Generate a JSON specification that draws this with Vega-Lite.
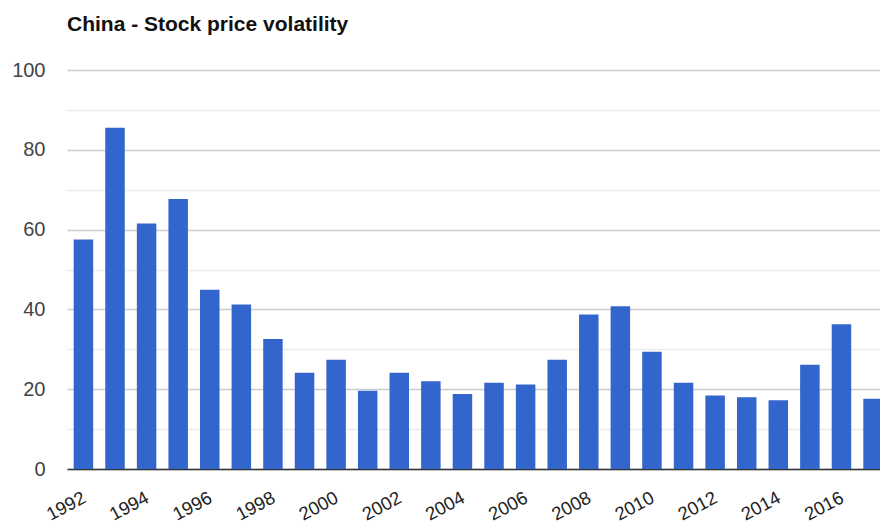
{
  "$schema": "https://vega.github.io/schema/vega-lite/v6.json",
  "autosize": {"type": "none"},
  "width": 813,
  "height": 399,
  "padding": {"left": 67, "right": 0, "top": 70, "bottom": 55},
  "background": "#ffffff",
  "title": {
    "text": "China - Stock price volatility",
    "anchor": "start",
    "frame": "group",
    "font": "Liberation Sans",
    "fontSize": 21,
    "fontWeight": "bold",
    "color": "#111111",
    "offset": 25
  },
  "data": {
    "values": [
      {"year": 1992, "volatility": 57.5},
      {"year": 1993, "volatility": 85.5},
      {"year": 1994, "volatility": 61.5},
      {"year": 1995, "volatility": 67.7},
      {"year": 1996, "volatility": 44.9},
      {"year": 1997, "volatility": 41.2},
      {"year": 1998, "volatility": 32.6},
      {"year": 1999, "volatility": 24.1},
      {"year": 2000, "volatility": 27.4},
      {"year": 2001, "volatility": 19.6},
      {"year": 2002, "volatility": 24.1},
      {"year": 2003, "volatility": 22.0},
      {"year": 2004, "volatility": 18.8},
      {"year": 2005, "volatility": 21.6},
      {"year": 2006, "volatility": 21.2},
      {"year": 2007, "volatility": 27.4},
      {"year": 2008, "volatility": 38.7},
      {"year": 2009, "volatility": 40.8},
      {"year": 2010, "volatility": 29.4},
      {"year": 2011, "volatility": 21.6},
      {"year": 2012, "volatility": 18.4},
      {"year": 2013, "volatility": 18.0},
      {"year": 2014, "volatility": 17.2},
      {"year": 2015, "volatility": 26.1},
      {"year": 2016, "volatility": 36.3},
      {"year": 2017, "volatility": 17.6}
    ]
  },
  "mark": {"type": "bar", "color": "#3366cc", "width": 19.5, "clip": true},
  "encoding": {
    "x": {
      "field": "year",
      "type": "quantitative",
      "scale": {"domain": [1991.48, 2017.22], "nice": false, "zero": false, "padding": 0},
      "axis": {
        "title": null,
        "values": [1992, 1994, 1996, 1998, 2000, 2002, 2004, 2006, 2008, 2010, 2012, 2014, 2016],
        "format": "d",
        "grid": false,
        "ticks": false,
        "domain": true,
        "domainColor": "#333333",
        "domainWidth": 1.5,
        "labelAngle": -28,
        "labelAlign": "right",
        "labelBaseline": "top",
        "labelPadding": 19,
        "labelOffset": -4,
        "labelFont": "Liberation Sans",
        "labelFontSize": 18.5,
        "labelColor": "#222222",
        "labelOverlap": false
      }
    },
    "y": {
      "field": "volatility",
      "type": "quantitative",
      "scale": {"domain": [0, 100], "nice": false},
      "axis": {
        "title": null,
        "values": [0, 10, 20, 30, 40, 50, 60, 70, 80, 90, 100],
        "labelExpr": "datum.value % 20 === 0 ? datum.label : ''",
        "domain": false,
        "ticks": false,
        "grid": true,
        "gridColor": {"condition": {"test": "datum.value % 20 === 0", "value": "#cccccc"}, "value": "#ebebeb"},
        "gridWidth": 1.3,
        "labelPadding": 22,
        "labelFont": "Liberation Sans",
        "labelFontSize": 20,
        "labelColor": "#444444"
      }
    }
  },
  "config": {"view": {"stroke": null}}
}
